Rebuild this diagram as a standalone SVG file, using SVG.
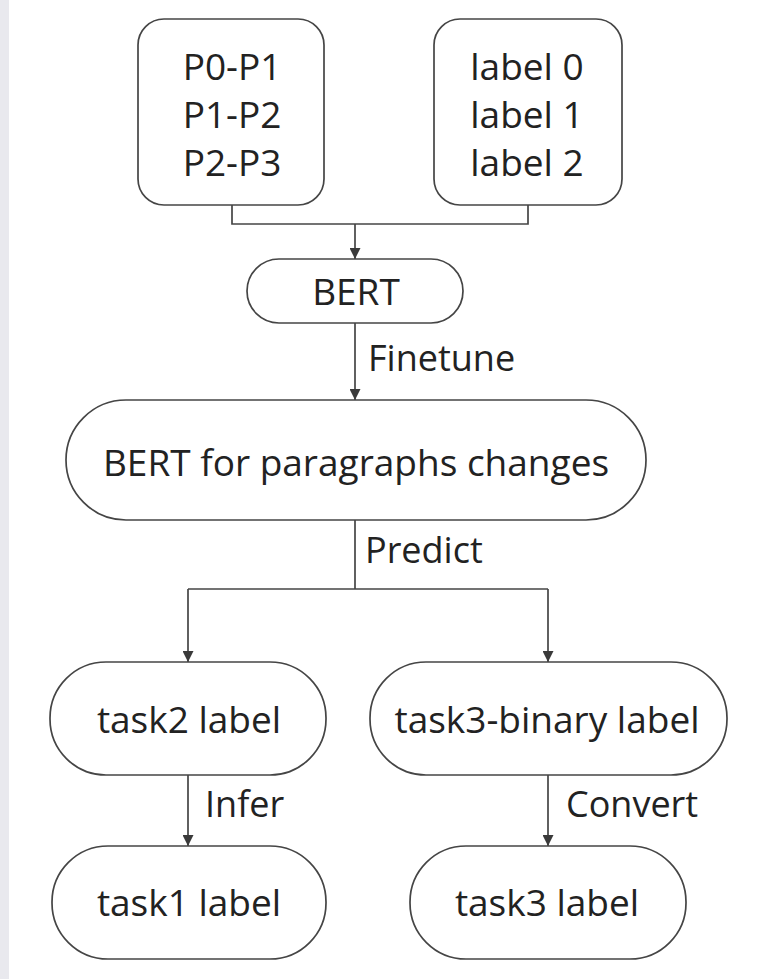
<svg xmlns="http://www.w3.org/2000/svg" width="767" height="979" viewBox="0 0 767 979">
<defs>
<style>
.node{fill:#fff;stroke:#454545;stroke-width:1.7}
.t{font-family:"Open Sans","Noto Sans","Liberation Sans",sans-serif;font-size:37px;fill:#222;text-anchor:middle}
.lbl{font-family:"Open Sans","Noto Sans","Liberation Sans",sans-serif;font-size:36px;fill:#222}
.edge{fill:none;stroke:#454545;stroke-width:1.7}
</style>
<marker id="arr" viewBox="0 0 10 10" refX="10" refY="5" markerWidth="12" markerHeight="11" orient="auto" markerUnits="userSpaceOnUse">
<path d="M0,0 L10,5 L0,10 z" fill="#3a3a3a"/>
</marker>
</defs>
<rect x="0" y="0" width="767" height="979" fill="#fff"/>
<rect x="0" y="0" width="9" height="979" fill="#e9e9ee"/>
<g id="connectors">
<path class="edge" d="M232,205 V224 H528 V205"/>
<path class="edge" d="M355,224 V259" marker-end="url(#arr)"/>
<path class="edge" d="M355,323 V400" marker-end="url(#arr)"/>
<path class="edge" d="M355,520 V589"/>
<path class="edge" d="M188,589 H548"/>
<path class="edge" d="M188,589 V662" marker-end="url(#arr)"/>
<path class="edge" d="M548,589 V662" marker-end="url(#arr)"/>
<path class="edge" d="M188,775 V846" marker-end="url(#arr)"/>
<path class="edge" d="M548,775 V846" marker-end="url(#arr)"/>
<text class="lbl" x="368" y="371">Finetune</text>
<text class="lbl" x="365" y="563">Predict</text>
<text class="lbl" x="205" y="817">Infer</text>
<text class="lbl" x="566" y="817">Convert</text>
</g>
<g id="pairs">
<rect class="node" x="138" y="19" width="186" height="186" rx="26"/>
<text class="t" x="232" y="80">P0-P1</text>
<text class="t" x="232" y="128">P1-P2</text>
<text class="t" x="232" y="176">P2-P3</text>
</g>
<g id="labels">
<rect class="node" x="434" y="19" width="188" height="186" rx="26"/>
<text class="t" x="527" y="80">label 0</text>
<text class="t" x="527" y="128">label 1</text>
<text class="t" x="527" y="176">label 2</text>
</g>
<g id="bert">
<rect class="node" x="247" y="259" width="216" height="64" rx="32"/>
<text class="t" x="356" y="305">BERT</text>
</g>
<g id="bert-para">
<rect class="node" x="66" y="400" width="580" height="120" rx="60"/>
<text class="t" x="356" y="476">BERT for paragraphs changes</text>
</g>
<g id="task2">
<rect class="node" x="50" y="662" width="276" height="113" rx="56"/>
<text class="t" x="189" y="733">task2 label</text>
</g>
<g id="task3-binary">
<rect class="node" x="370" y="662" width="357" height="113" rx="56"/>
<text class="t" x="547" y="733">task3-binary label</text>
</g>
<g id="task1">
<rect class="node" x="52" y="846" width="274" height="113" rx="56"/>
<text class="t" x="189" y="916">task1 label</text>
</g>
<g id="task3">
<rect class="node" x="410" y="846" width="276" height="113" rx="56"/>
<text class="t" x="547" y="916">task3 label</text>
</g>
</svg>
